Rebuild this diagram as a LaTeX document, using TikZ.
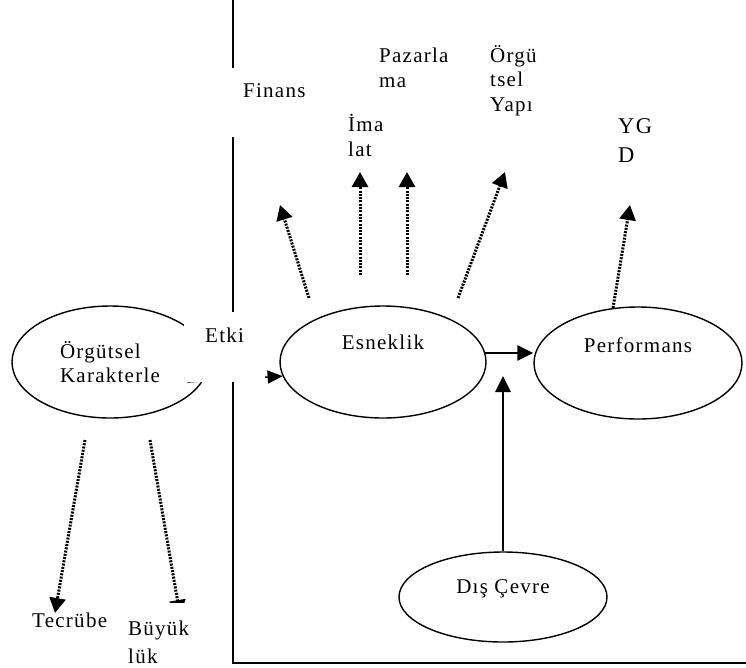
\documentclass[tikz,border=0pt]{standalone}
\usepackage{fontspec}
\setmainfont{Liberation Serif}[LetterSpace=6]
\usetikzlibrary{shapes.geometric}
\usetikzlibrary{arrows.meta}
\usetikzlibrary{positioning}
\tikzset{
every node/.style={font=\fontsize{21}{24.5}\selectfont},
oval/.style={ % Sets the properties for each ellipse
draw,
ellipse,
line width=1.4pt,
inner sep=0pt},
lbl/.style={ % Plain text boxes
align=left,
inner sep=0pt},
dotarrow/.style={ % Dotted links to the sub-items
draw,
line width=3pt,
dash pattern=on 2pt off 1.3pt,
-{Triangle[length=15pt,width=16pt]}},
solidarrow/.style={
draw,
line width=2.8pt,
-{Triangle[length=16pt,width=15pt]}},
thinarrow/.style={
draw,
line width=1.4pt,
-{Triangle[length=15pt,width=13pt]}},
frame/.style={line width=1.5pt}}

\begin{document}
\begin{tikzpicture}[x=1pt,y=-1pt]
	\useasboundingbox (0,0) rectangle (746,667);
	\draw[frame] (233,0) -- (233,663) -- (746,663);
	% ellipses
	\node[oval, align=left, minimum width=196pt, minimum height=112pt] (Ork) at (110,362) {Örgütsel\\Karakterle};
	\node[oval, minimum width=206pt, minimum height=112pt, text height=14pt, text depth=40pt] (Esn) at (383,362) {Esneklik};
	\node[oval, minimum width=208pt, minimum height=112pt, text height=14pt, text depth=36pt] (Perf) at (638,363) {Performans};
	\node[oval, minimum width=208pt, minimum height=90pt, text height=14pt, text depth=22pt] (Dis) at (503,597) {Dış Çevre};
	% free ends of the links
	\coordinate (ork0) at (187,382);
	\coordinate (meet) at (503,376);
	\coordinate (f0) at (309,298);
	\coordinate (f1) at (280,205);
	\coordinate (i0) at (360,275);
	\coordinate (i1) at (360,172);
	\coordinate (p0) at (407,275);
	\coordinate (p1) at (407,172);
	\coordinate (o0) at (458,298);
	\coordinate (o1) at (505,172);
	\coordinate (y0) at (613,308);
	\coordinate (y1) at (630,205);
	\coordinate (t0) at (85,440);
	\coordinate (t1) at (55,613);
	\coordinate (b0) at (150,440);
	\coordinate (b1) at (180,615);
	% links
	\draw (ork0) edge[thinarrow] (Esn.188);
	\draw (Esn.5) edge[solidarrow] (Esn.5 -| Perf.west);
	\draw (Dis) edge[solidarrow] (meet);
	\draw (f0) edge[dotarrow] (f1);
	\draw (i0) edge[dotarrow] (i1);
	\draw (p0) edge[dotarrow] (p1);
	\draw (o0) edge[dotarrow] (o1);
	\draw (y0) edge[dotarrow] (y1);
	\draw (t0) edge[dotarrow] (t1);
	\draw (b0) edge[dotarrow] (b1);
	% labels (base = last line)
	\node[lbl, fill=white, inner xsep=15pt, text height=29pt, text depth=40pt, anchor=base west] (Fin) at (228,97) {Finans};
	\node[lbl, fill=white, inner xsep=21pt, text height=30pt, text depth=39.5pt, anchor=base west] (Etk) at (184,342) {Etki};
	\node[lbl, anchor=base west] (Pzl) at (379,87) {Pazarla\\ma};
	\node[lbl, anchor=base west] (Yap) at (490,111) {Örgü\\tsel\\Yapı};
	\node[lbl, anchor=base west] (Ima) at (348,156) {İma\\lat};
	\node[lbl, anchor=base west, font=\fontsize{22.5}{29}\selectfont] (Ygd) at (618,162) {YG\\D};
	\node[lbl, anchor=base west] (Tec) at (32,627) {Tecrübe};
	\node[lbl, fill=white, inner xsep=4pt, inner ysep=17.5pt, anchor=north west] (Buy) at (124,603) {Büyük\\[3.5pt]lük};
\end{tikzpicture}
\end{document}
